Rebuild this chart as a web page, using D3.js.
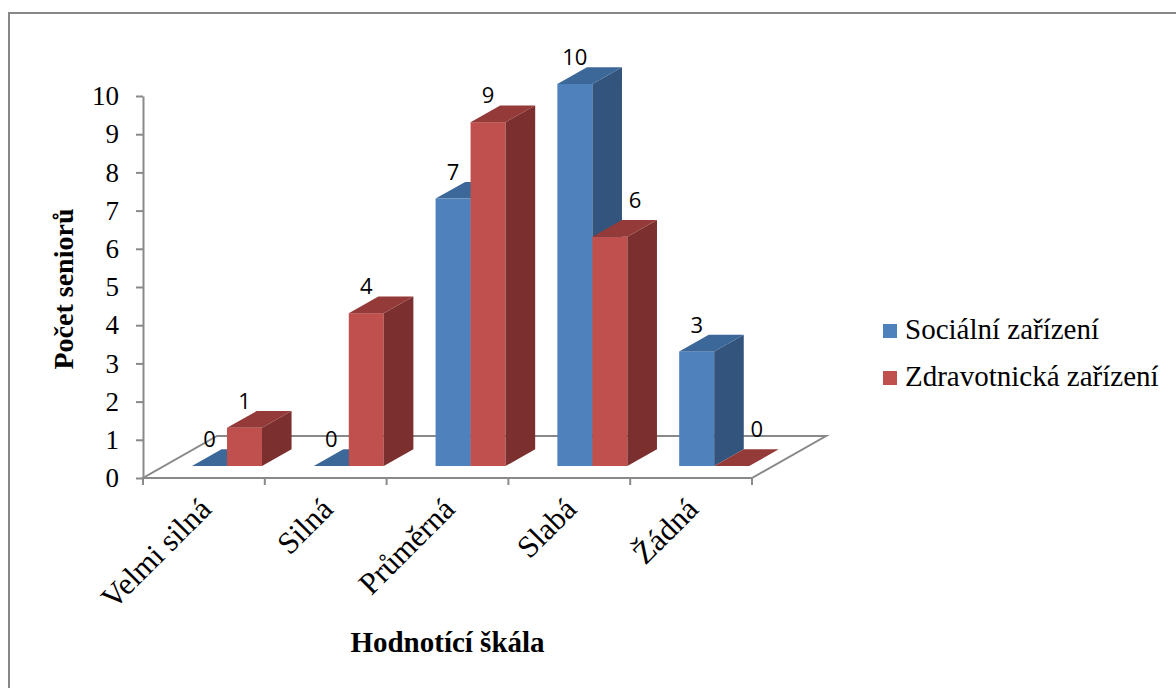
<!DOCTYPE html>
<html>
<head>
<meta charset="utf-8">
<script src="https://cdn.jsdelivr.net/npm/d3@7"></script>
<style>
  body { margin: 0; background: #fff; }
  svg { display: block; }
</style>
</head>
<body>
<div id="chart"></div>
<script>
// data
var categories = ["Velmi silná", "Silná", "Průměrná", "Slabá", "Žádná"];
var seriesNames = ["Sociální zařízení", "Zdravotnická zařízení"];
var socialni = [0, 0, 7, 10, 3];
var zdravotnicka = [1, 4, 9, 6, 0];
var yTicks = [0, 1, 2, 3, 4, 5, 6, 7, 8, 9, 10];

var W = 1176, H = 688;

// plot frame
var plotLeft = 143, plotRight = 752, plotBase = 478, plotTop = 96;
var floorDepth = [74, -42];      // floor back offset
var barFront = [21, -12];        // bars sit a bit into the floor
var barDepth = [29.6, -16.7];

var colors = [
  {front: "#4f81bd", side: "#33547d", top: "#3c6799"},
  {front: "#c0504d", side: "#7b2f2e", top: "#943a38"}
];

var serif = "Liberation Serif, Times New Roman, serif";

var svg = d3.select("#chart").append("svg")
    .attr("width", W)
    .attr("height", H);

// outer border
svg.append("rect")
    .attr("x", 9).attr("y", 13)
    .attr("width", W + 20).attr("height", H + 20)
    .attr("fill", "none")
    .attr("stroke", "#878787")
    .attr("stroke-width", 2);

var x = d3.scaleBand()
    .domain(categories)
    .range([plotLeft, plotRight]);

var xs = d3.scaleBand()
    .domain(d3.range(seriesNames.length))
    .range([0, x.bandwidth()])
    .paddingOuter(0.74)
    .align(0.54);

var y = d3.scaleLinear()
    .domain([0, 10])
    .range([plotBase, plotTop]);

// floor outline
var floor = [
  [plotLeft, plotBase],
  [plotRight, plotBase],
  [plotRight + floorDepth[0], plotBase + floorDepth[1]],
  [plotLeft + floorDepth[0], plotBase + floorDepth[1]]
];
svg.append("polygon")
    .attr("points", floor.map(function(p) { return p.join(","); }).join(" "))
    .attr("fill", "none")
    .attr("stroke", "#898989")
    .attr("stroke-width", 2);

// y axis
var yAxis = d3.axisLeft(y)
    .tickValues(yTicks)
    .tickFormat(d3.format("d"))
    .tickSize(7)
    .tickSizeOuter(0)
    .tickPadding(17);

var gy = svg.append("g")
    .attr("transform", "translate(" + plotLeft + ",0)")
    .call(yAxis);
gy.select(".domain").attr("stroke", "#898989").attr("stroke-width", 2);
gy.selectAll(".tick line").attr("stroke", "#898989").attr("stroke-width", 2);
gy.selectAll(".tick text")
    .attr("font-family", serif)
    .attr("font-size", 27)
    .attr("fill", "#000");

// x axis: boundary ticks
var bounds = categories.map(function(c) { return x(c); })
    .concat([x(categories[categories.length - 1]) + x.bandwidth()]);
svg.append("g").selectAll("line")
    .data(bounds)
    .enter().append("line")
    .attr("x1", function(d) { return d; })
    .attr("x2", function(d) { return d; })
    .attr("y1", plotBase)
    .attr("y2", plotBase + 7)
    .attr("stroke", "#898989")
    .attr("stroke-width", 2);

// x labels rotated
svg.append("g").selectAll("text")
    .data(categories)
    .enter().append("text")
    .attr("transform", function(d) {
      return "translate(" + (x(d) + x.bandwidth() / 2 + 9) + "," + (plotBase + 33) + ") rotate(-45)";
    })
    .attr("text-anchor", "end")
    .attr("font-family", serif)
    .attr("font-size", 31)
    .text(function(d) { return d; });

// bars
var values = [socialni, zdravotnicka];
var bars = [];
categories.forEach(function(c, i) {
  values.forEach(function(v, s) {
    bars.push({cat: c, i: i, s: s, value: v[i]});
  });
});

function pts(arr) {
  return arr.map(function(p) { return p[0] + "," + p[1]; }).join(" ");
}

var gBars = svg.append("g");
bars.forEach(function(d) {
  var w = xs.bandwidth();
  var x0 = x(d.cat) + xs(d.s) + barFront[0];
  var yb = plotBase + barFront[1];
  var h = y(0) - y(d.value);
  var yt = yb - h;
  var dx = barDepth[0], dy = barDepth[1];
  var col = colors[d.s];
  d.x0 = x0; d.w = w; d.yt = yt;
  if (h > 0) {
    gBars.append("rect")
        .attr("x", x0).attr("y", yt)
        .attr("width", w).attr("height", h)
        .attr("fill", col.front);
    gBars.append("polygon")
        .attr("points", pts([[x0 + w, yb], [x0 + w + dx, yb + dy], [x0 + w + dx, yt + dy], [x0 + w, yt]]))
        .attr("fill", col.side);
  }
  gBars.append("polygon")
      .attr("points", pts([[x0, yt], [x0 + dx, yt + dy], [x0 + w + dx, yt + dy], [x0 + w, yt]]))
      .attr("fill", col.top);
});

// data labels
bars.forEach(function(d, k) {
  var lx = d.x0 + d.w / 2;
  var ly = d.yt + barDepth[1] - 10;
  var prev = d.s > 0 ? bars[k - 1] : null;
  if (prev && prev.value > d.value) {
    // pushed clear of the taller neighbour
    lx = prev.x0 + prev.w + barDepth[0] + 13;
    ly = d.yt + barDepth[1] - 20;
  }
  svg.append("text")
      .attr("x", lx)
      .attr("y", ly)
      .attr("dy", "0.36em")
      .attr("text-anchor", "middle")
      .attr("font-family", "Open Sans, sans-serif")
      .attr("font-size", 22)
      .text(d.value);
});

// axis titles
svg.append("text")
    .attr("transform", "translate(73,289) rotate(-90)")
    .attr("text-anchor", "middle")
    .attr("font-family", serif)
    .attr("font-weight", "bold")
    .attr("font-size", 28)
    .text("Počet seniorů");

svg.append("text")
    .attr("x", 447.5)
    .attr("y", 652)
    .attr("text-anchor", "middle")
    .attr("font-family", serif)
    .attr("font-weight", "bold")
    .attr("font-size", 29)
    .text("Hodnotící škála");

// legend
var legend = svg.append("g").selectAll("g")
    .data(seriesNames)
    .enter().append("g")
    .attr("transform", function(d, i) { return "translate(883," + (324 + i * 47) + ")"; });
legend.append("rect")
    .attr("width", 14).attr("height", 14)
    .attr("fill", function(d, i) { return colors[i].front; });
legend.append("text")
    .attr("x", 22)
    .attr("y", 15)
    .attr("font-family", serif)
    .attr("font-size", 29)
    .text(function(d) { return d; });
</script>
</body>
</html>
